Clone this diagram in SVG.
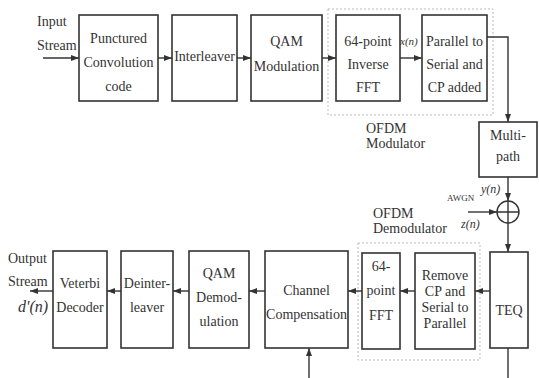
<svg xmlns="http://www.w3.org/2000/svg" width="539" height="378" viewBox="0 0 539 378" font-family="Liberation Serif, DejaVu Serif, serif">
<style>
.b{fill:#fff;stroke:#333;stroke-width:1.6}
.d{fill:none;stroke:#bbb;stroke-width:1;stroke-dasharray:2 2}
.c{fill:none;stroke:#333;stroke-width:1.4}
text{font-family:'Liberation Serif','DejaVu Serif',serif;font-size:14px;fill:#333}
.m{text-anchor:middle}
.i{font-style:italic}
</style>
<defs>
<marker id="a" viewBox="0 0 8 6" refX="8" refY="3" markerWidth="8" markerHeight="6" markerUnits="userSpaceOnUse" orient="auto">
<path d="M0,0L8,3L0,6z" fill="#333"/>
</marker>
</defs>
<rect class="d" x="328" y="9" width="165" height="106"/>
<rect class="d" x="358" y="243" width="122" height="117"/>
<g id="connectors" class="c">
<path d="M43,58H79" marker-end="url(#a)"/>
<path d="M158,58H172" marker-end="url(#a)"/>
<path d="M237,58H251" marker-end="url(#a)"/>
<path d="M322,58H336" marker-end="url(#a)"/>
<path d="M400,58H422" marker-end="url(#a)"/>
<path d="M487,37H508V122" marker-end="url(#a)"/>
<path d="M508,177V201" marker-end="url(#a)"/>
<path d="M468,212H497" marker-end="url(#a)"/>
<path d="M508,223V252" marker-end="url(#a)"/>
<path d="M490,291H475" marker-end="url(#a)"/>
<path d="M415,291H400" marker-end="url(#a)"/>
<path d="M362,291H348" marker-end="url(#a)"/>
<path d="M265,291H249" marker-end="url(#a)"/>
<path d="M189,291H173" marker-end="url(#a)"/>
<path d="M121,291H107" marker-end="url(#a)"/>
<path d="M53,291H30" marker-end="url(#a)"/>
<path d="M309,378V348" marker-end="url(#a)"/>
<path d="M508,348V378"/>
</g>
<text x="37" y="26">Input</text>
<text x="37" y="50">Stream</text>
<g id="punctured"><rect class="b" x="79" y="15" width="79" height="86"/>
<text class="m" x="118.5" y="43">Punctured</text><text class="m" x="118.5" y="67">Convolution</text><text class="m" x="118.5" y="91">code</text></g>
<g id="interleaver"><rect class="b" x="172" y="15" width="65" height="86"/>
<text class="m" x="204.5" y="61">Interleaver</text></g>
<g id="qammod"><rect class="b" x="251" y="15" width="71" height="86"/>
<text class="m" x="286.5" y="46">QAM</text><text class="m" x="286.5" y="71">Modulation</text></g>
<g id="ifft"><rect class="b" x="336" y="15" width="64" height="86"/>
<text class="m" x="368" y="46">64-point</text><text class="m" x="368" y="69">Inverse</text><text class="m" x="368" y="92">FFT</text></g>
<text class="i" x="400" y="45" style="font-size:11px">x(n)</text>
<g id="ps"><rect class="b" x="422" y="15" width="65" height="86"/>
<text class="m" x="454.5" y="46">Parallel to</text><text class="m" x="454.5" y="69">Serial and</text><text class="m" x="454.5" y="92">CP added</text></g>
<text x="366" y="133">OFDM</text>
<text x="366" y="148">Modulator</text>
<g id="multipath"><rect class="b" x="479" y="122" width="58" height="55"/>
<text class="m" x="508" y="140">Multi-</text><text class="m" x="508" y="161">path</text></g>
<g id="adder"><circle class="c" cx="508" cy="212" r="11"/><path class="c" d="M497,212H519M508,201V223"/></g>
<text x="447" y="201" style="font-size:9px">AWGN</text>
<text class="i" x="481" y="193" style="font-size:12px">y(n)</text>
<text class="i" x="461" y="228" style="font-size:12px">z(n)</text>
<text x="373" y="218">OFDM</text>
<text x="373" y="233">Demodulator</text>
<g id="teq"><rect class="b" x="490" y="252" width="38" height="96"/>
<text class="m" x="509" y="315">TEQ</text></g>
<g id="remcp"><rect class="b" x="415" y="253" width="60" height="96"/>
<text class="m" x="445" y="280">Remove</text><text class="m" x="445" y="296">CP and</text><text class="m" x="445" y="312">Serial to</text><text class="m" x="445" y="328">Parallel</text></g>
<g id="fft"><rect class="b" x="362" y="253" width="38" height="96"/>
<text class="m" x="381" y="271">64-</text><text class="m" x="381" y="295">point</text><text class="m" x="381" y="320">FFT</text></g>
<g id="chcomp"><rect class="b" x="265" y="251" width="83" height="97"/>
<text class="m" x="306.5" y="295">Channel</text><text class="m" x="306.5" y="319">Compensation</text></g>
<g id="qamdemod"><rect class="b" x="189" y="251" width="60" height="97"/>
<text class="m" x="219" y="278">QAM</text><text class="m" x="219" y="302">Demod-</text><text class="m" x="219" y="326">ulation</text></g>
<g id="deint"><rect class="b" x="121" y="251" width="52" height="97"/>
<text class="m" x="147" y="288">Deinter-</text><text class="m" x="147" y="312">leaver</text></g>
<g id="viterbi"><rect class="b" x="53" y="251" width="54" height="97"/>
<text class="m" x="80" y="288">Veterbi</text><text class="m" x="80" y="312">Decoder</text></g>
<text x="8" y="263">Output</text>
<text x="8" y="286">Stream</text>
<text class="i" x="18" y="312" style="font-size:16px">d'(n)</text>
</svg>
